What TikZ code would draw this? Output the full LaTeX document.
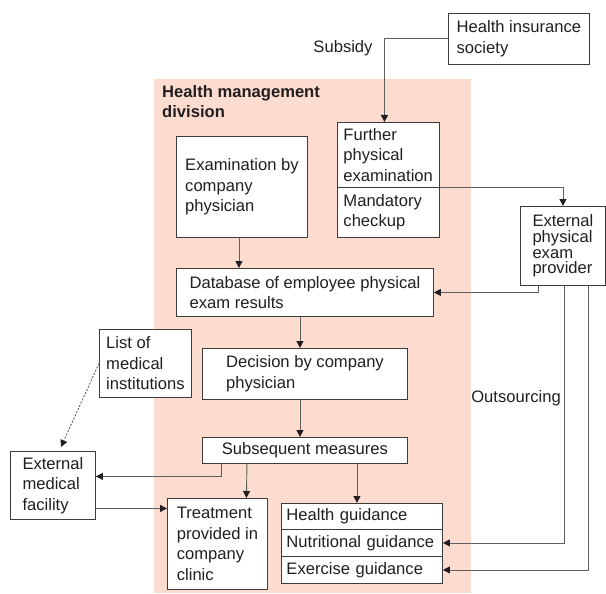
\documentclass[tikz,border=0pt]{standalone}
\usepackage{fontspec}
\setmainfont{Liberation Sans}
\usepackage{xcolor}
\usetikzlibrary{arrows.meta}
\definecolor{pinkzone}{RGB}{252,220,206}
\definecolor{linegray}{RGB}{95,95,95}
\definecolor{boxgray}{RGB}{60,60,60}
\definecolor{inkgray}{RGB}{35,31,32}

\begin{document}
\begin{tikzpicture}[x=1pt,y=-1pt,
  box/.style={draw=boxgray,fill=white,line width=0.9pt,anchor=north west,inner sep=0pt,
    align=left,text=inkgray,font=\fontsize{16.6pt}{20.5pt}\selectfont},
  arr/.style={draw=linegray,line width=0.9pt,-{Triangle[length=7pt,width=7pt,color=inkgray]}},
  lbl/.style={text=inkgray,inner sep=0pt,font=\fontsize{16.6pt}{20.5pt}\selectfont}]
\useasboundingbox (0,0) rectangle (606,594);
\fill[pinkzone] (154,79) rectangle (471,593);
\node[lbl,anchor=north west,align=left,font=\fontsize{16.6pt}{20.5pt}\selectfont\bfseries] (division) at (162,85) {Health management\\division};

\node[box,minimum width=141pt,minimum height=51pt] (insurance) at (448,13) {Health insurance\\society};
\node[box,minimum width=102pt,minimum height=65pt,text width=90pt,inner xsep=6pt] (further) at (337,122) {Further\\physical\\examination};
\node[box,minimum width=102pt,minimum height=50pt,text width=90pt,inner xsep=6pt] (mandatory) at (337,187) {Mandatory\\checkup};
\node[box,minimum width=131pt,minimum height=101pt] (exam) at (176,136) {Examination by\\company\\physician};
\node[box,minimum width=85pt,minimum height=79pt,font=\fontsize{16.6pt}{15.8pt}\selectfont] (provider) at (520,206) {External\\physical\\exam\\provider};
\node[box,minimum width=257pt,minimum height=48pt] (database) at (176,268) {Database of employee physical\\exam results};
\node[box,minimum width=92pt,minimum height=68pt] (list) at (99,329) {List of\\medical\\institutions};
\node[box,minimum width=205pt,minimum height=51pt] (decision) at (202,348) {Decision by company\\physician};
\node[box,minimum width=205pt,minimum height=26pt] (subsequent) at (202,437) {Subsequent measures};
\node[box,minimum width=85pt,minimum height=68pt] (medical) at (10,451) {External\\medical\\facility};
\node[box,minimum width=100pt,minimum height=91pt] (treatment) at (167,498) {Treatment\\provided in\\company\\clinic};
\node[box,minimum height=26pt,text width=151pt,inner xsep=5pt] (healthg) at (281,503) {Health guidance};
\node[box,minimum height=27pt,text width=151pt,inner xsep=5pt] (nutrition) at (281,529) {Nutritional guidance};
\node[box,minimum height=27pt,text width=151pt,inner xsep=5pt] (exercise) at (281,556) {Exercise guidance};

\node[lbl] (subsidy) at (343,48) {Subsidy};
\node[lbl] (outsourcing) at (516,398) {Outsourcing};

\draw[arr] (insurance.west) -| ([xshift=-4pt]further.north);
\draw[arr] (further.south east) -| (provider.north);
\draw[arr] ([xshift=-3pt]exam.south) -- ([xshift=-3pt]exam.south |- database.north);
\draw[arr] ([xshift=-25pt]provider.south) |- (database.east);
\draw[arr] ([xshift=-5pt]database.south) -- ([xshift=-5pt]decision.north);
\draw[arr] ([xshift=-5pt]decision.south) -- ([xshift=-5pt]subsequent.north);
\draw[arr] ([xshift=-84pt]subsequent.south) |- ([yshift=9pt]medical.east);
\draw[arr] ([xshift=-58pt]subsequent.south) -- ([xshift=29pt]treatment.north);
\draw[arr] ([xshift=52pt]subsequent.south) -- ([xshift=-5pt]healthg.north);
\draw[arr] ([yshift=-23pt]medical.east) -- ([yshift=-23pt]medical.east -| treatment.west);
\draw[arr,dash pattern=on 2pt off 1.5pt] (list.west) -- ([shift={(8pt,4pt)}]medical.north);
\draw[arr] ([xshift=1.5pt]provider.south) |- (nutrition.east);
\draw[arr] ([xshift=25.5pt]provider.south) |- (exercise.east);
\end{tikzpicture}
\end{document}
